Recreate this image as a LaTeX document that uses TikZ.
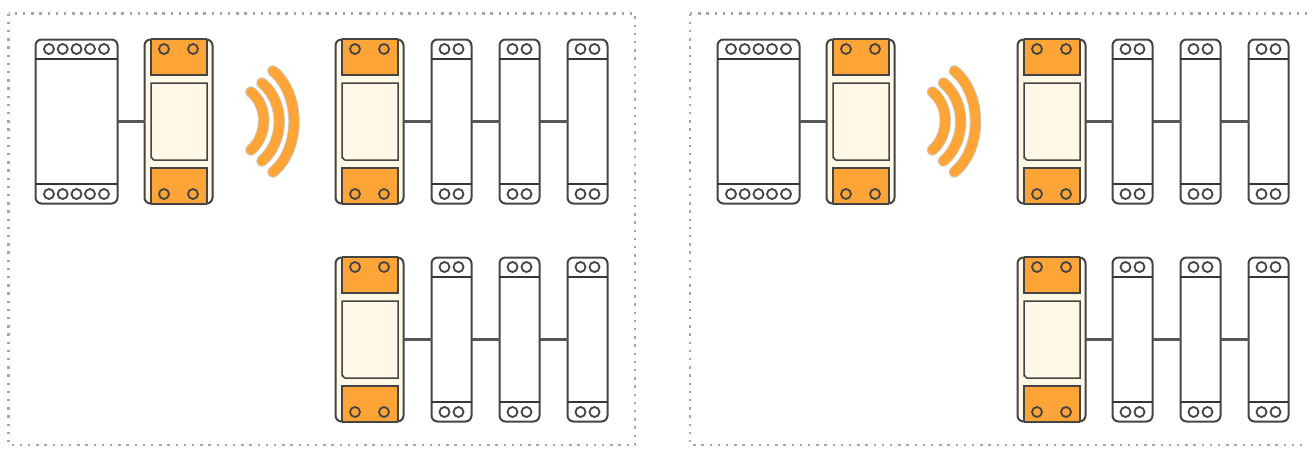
\documentclass[tikz,border=0pt]{standalone}
\definecolor{cream}{HTML}{FFF8E7}
\definecolor{amber}{HTML}{FFA436}
\definecolor{ink}{HTML}{444444}
\tikzset{
  x=1pt,y=-1pt,
  frame/.style={draw=gray!70,line width=2.4pt,dash pattern=on 2.4pt off 5.8pt},
  body/.style={draw=ink,line width=2pt,rounded corners=6pt,fill=white,inner sep=0pt,outer sep=0pt},
  relaybody/.style={body,fill=cream},
  panel/.style={draw=ink,line width=1.5pt},
  hole/.style={circle,draw=ink,line width=1.8pt,minimum size=10pt,inner sep=0pt,fill=none},
  divider/.style={draw=ink!80!black,line width=1.5pt},
  wire/.style={draw=ink!90,line width=2.2pt},
  waveback/.style={draw=gray!40,line width=11.4pt,line cap=round},
  wavefront/.style={draw=amber,line width=9.8pt,line cap=round},
}
\newcommand{\relaydev}[3]{%
  \node[relaybody,minimum width=68pt,minimum height=164pt,anchor=north west] (#1) at (#2+.5,#3+.5) {};
  \fill[amber] (#2+7,#3) rectangle (#2+63,#3+36);
  \draw[panel] (#2+7,#3) -- (#2+7,#3+36) -- (#2+63,#3+36) -- (#2+63,#3);
  \draw[panel,fill=cream] (#2+7,#3+44) -- (#2+63,#3+44) -- (#2+63,#3+121) -- (#2+10,#3+121) to[out=180,in=90] (#2+7,#3+118) -- cycle;
  \fill[amber] (#2+7,#3+129) rectangle (#2+63,#3+165);
  \draw[panel] (#2+7,#3+165) -- (#2+7,#3+129) -- (#2+63,#3+129) -- (#2+63,#3+165);
  \draw[ink,line width=1.5pt] (#2+7,#3+165) -- (#2+63,#3+165);
  \draw[ink,line width=1.5pt] (#2+7,#3) -- (#2+63,#3);
  \node[hole] (#1ta) at (#2+20,#3+10) {};
  \node[hole] (#1tb) at (#2+49,#3+10) {};
  \node[hole] (#1ba) at (#2+20,#3+155) {};
  \node[hole] (#1bb) at (#2+49,#3+155) {};
}
\newcommand{\smalldev}[3]{%
  \node[body,minimum width=40pt,minimum height=164pt,anchor=north west] (#1) at (#2+.5,#3+.5) {};
  \draw[divider] (#2,#3+20) -- (#2+41,#3+20);
  \draw[divider] (#2,#3+145) -- (#2+41,#3+145);
  \node[hole] (#1ta) at (#2+13.5,#3+10) {};
  \node[hole] (#1tb) at (#2+27.5,#3+10) {};
  \node[hole] (#1ba) at (#2+13.5,#3+155) {};
  \node[hole] (#1bb) at (#2+27.5,#3+155) {};
}
\newcommand{\bigdev}[3]{%
  \node[body,minimum width=82pt,minimum height=164pt,anchor=north west] (#1) at (#2+.5,#3+.5) {};
  \draw[divider] (#2,#3+20) -- (#2+83,#3+20);
  \draw[divider] (#2,#3+145) -- (#2+83,#3+145);
  \foreach \k in {14,27.7,41.5,55,69}{
    \node[hole] at (#2+\k,#3+10) {};
    \node[hole] at (#2+\k,#3+155) {};
  }
}
\newcommand{\waves}[1]{%
  \foreach \st in {waveback,wavefront}{
    \draw[\st] (#1+5,92) .. controls (#1+22,106) and (#1+22,135) .. (#1+5,150);
    \draw[\st] (#1+16,83) .. controls (#1+39,102) and (#1+39,141) .. (#1+16,161);
    \draw[\st] (#1+27,71) .. controls (#1+55,94) and (#1+55,149) .. (#1+27,172);
  }
}
\begin{document}
\begin{tikzpicture}
\useasboundingbox (0,0) rectangle (1312,448);
\fill[white] (0,0) rectangle (1312,448);
\draw[frame] (8.5,13.5) rectangle (635,445);
\draw[frame] (690,13.5) -- (1307,13.5);
\draw[frame] (690,13.5) -- (690,445) -- (1307,445);
\bigdev{la}{35}{39}
\relaydev{lb}{144}{39}
\waves{246}
\relaydev{lc}{335}{39}
\smalldev{ld}{431}{39}
\smalldev{le}{499}{39}
\smalldev{lf}{567}{39}
\relaydev{lg}{335}{257}
\smalldev{lh}{431}{257}
\smalldev{li}{499}{257}
\smalldev{lj}{567}{257}
\draw[wire] (la) -- (lb);
\draw[wire] (lc) -- (ld);
\draw[wire] (ld) -- (le);
\draw[wire] (le) -- (lf);
\draw[wire] (lg) -- (lh);
\draw[wire] (lh) -- (li);
\draw[wire] (li) -- (lj);
\bigdev{ra}{717}{39}
\relaydev{rb}{826}{39}
\waves{927.5}
\relaydev{rc}{1017}{39}
\smalldev{rd}{1112}{39}
\smalldev{re}{1180}{39}
\smalldev{rf}{1248}{39}
\relaydev{rg}{1017}{257}
\smalldev{rh}{1112}{257}
\smalldev{ri}{1180}{257}
\smalldev{rj}{1248}{257}
\draw[wire] (ra) -- (rb);
\draw[wire] (rc) -- (rd);
\draw[wire] (rd) -- (re);
\draw[wire] (re) -- (rf);
\draw[wire] (rg) -- (rh);
\draw[wire] (rh) -- (ri);
\draw[wire] (ri) -- (rj);
\end{tikzpicture}
\end{document}
